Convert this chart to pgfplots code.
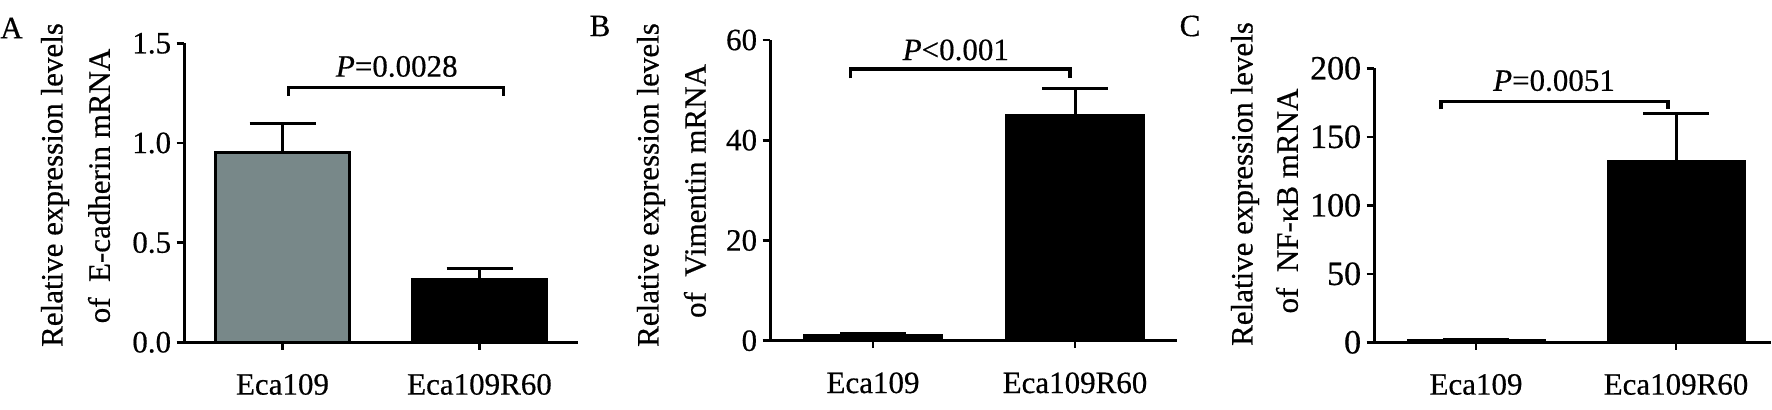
\documentclass[border=0pt]{standalone}
\usepackage{fontspec}
\setmainfont{Liberation Serif}[FakeBold=0.5]
\usepackage{pgfplots}
\pgfplotsset{compat=1.18}

\definecolor{barGray}{RGB}{120,136,137}

\pgfplotsset{
  panel/.style={
    scale only axis,
    anchor=south west,
    clip=false,
    axis x line*=bottom,
    axis y line*=left,
    axis line style={line width=1.5pt},
    tick align=outside,
    major tick length=3.75pt,
    tick style={line width=1.3pt, black},
    xtick={1,2},
    xticklabels={Eca109, Eca109R60},
    ymin=0,
    /pgf/number format/assume math mode=true,
    tick label style={font=\fontsize{15.5}{18}\selectfont},
    xticklabel style={anchor=base, inner sep=0pt, yshift=-22.4pt},
    yticklabel style={anchor=east, inner sep=0pt, xshift=-2.5pt},
  },
  bar/.style={ybar, bar width=0.68, bar shift=0pt, draw=black, line width=1.5pt,
    error bars/y dir=plus, error bars/y explicit,
    error bars/error bar style={line width=1.5pt, black},
    error bars/error mark options={rotate=90, mark size=16.5pt, line width=1.5pt, black}},
  bracket/.style={sharp plot, mark=none, draw=black, line width=1.6pt, forget plot},
}

\begin{document}
\begin{tikzpicture}[font=\fontsize{15.5}{22.5}\selectfont]
\useasboundingbox (0,0) rectangle (886pt,204.5pt);

% A: E-cadherin
\begin{axis}[panel, at={(92pt,33.35pt)}, width=197pt, height=149.5pt,
  xmin=0.5, xmax=2.5, ymax=1.5, ytick={0,0.5,1,1.5},
  yticklabel style={/pgf/number format/.cd, fixed, fixed zerofill, precision=1}]
\addplot[bar, fill=barGray] coordinates {(1,0.953) +- (0,0.147)};
\addplot[bar, fill=black] coordinates {(2,0.313) +- (0,0.058)};
\addplot[bracket] coordinates {(1.03,1.236) (1.03,1.279) (2.12,1.279) (2.12,1.236)};
\node[anchor=base] at (axis cs:1.58,1.333) {\textit{P}=0.0028};
\end{axis}

% B: Vimentin
\begin{axis}[panel, at={(385pt,34.15pt)}, width=203.5pt, height=150.35pt,
  xmin=0.49, xmax=2.505, ymax=60, ytick={0,20,40,60}]
\addplot[bar, fill=black] coordinates {(1,1.0) +- (0,0.35)};
\addplot[bar, fill=black] coordinates {(2,44.9) +- (0,5.45)};
\addplot[bracket] coordinates {(0.89,52.35) (0.89,54.2) (1.975,54.2) (1.975,52.35)};
\node[anchor=base] at (axis cs:1.41,56.0) {\textit{P}<0.001};
\end{axis}

% C: NF-kB
\begin{axis}[panel, at={(687pt,33.35pt)}, width=198.5pt, height=137pt,
  xmin=0.49, xmax=2.475, ymax=200, ytick={0,50,100,150,200},
  yticklabel style={font=\fontsize{17}{20}\selectfont}]
\addplot[bar, fill=black] coordinates {(1,1.2) +- (0,1.0)};
\addplot[bar, fill=black] coordinates {(2,131.9) +- (0,35.3)};
\addplot[bracket] coordinates {(0.825,170) (0.825,175.7) (1.96,175.7) (1.96,170)};
\node[anchor=base] at (axis cs:1.39,183.6) {\textit{P}=0.0051};
\end{axis}

% axis titles and panel letters
\node[rotate=90] at (27.5pt,112pt) {Relative expression levels};
\node[rotate=90] at (49.5pt,111.5pt) {of\ \ E-cadherin mRNA};
\node[rotate=90] at (325.5pt,112pt) {Relative expression levels};
\node[rotate=90] at (347.5pt,109pt) {of\ \ Vimentin mRNA};
\node[rotate=90] at (622.5pt,112.5pt) {Relative expression levels};
\node[rotate=90] at (643.5pt,104pt) {of\ \ NF-κB mRNA};
\node at (5.75pt,190.5pt) {A};
\node at (300pt,191.5pt) {B};
\node at (595pt,191.5pt) {C};
\end{tikzpicture}
\end{document}
